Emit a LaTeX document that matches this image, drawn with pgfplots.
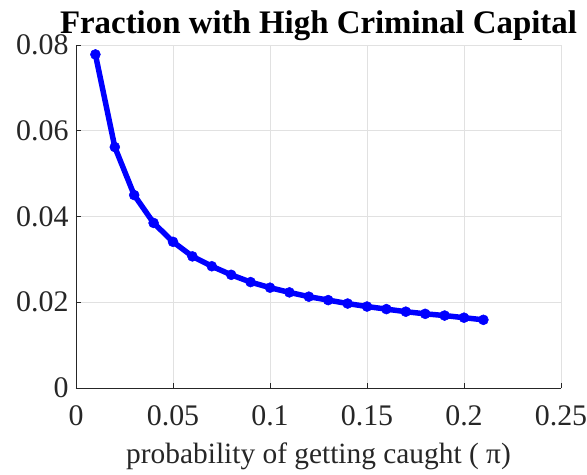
\documentclass[border=0pt]{standalone}
\usepackage{pgfplots}
\pgfplotsset{compat=1.18}
\usepackage{fontspec}
\setmainfont{Liberation Serif}
\definecolor{gridc}{RGB}{225,225,225}
\definecolor{axc}{RGB}{38,38,38}
\begin{document}
\begin{tikzpicture}
\useasboundingbox (-76bp,-87bp) rectangle (511bp,388bp);
\begin{axis}[
  at={(0,0)}, anchor=south west,
  scale only axis, width=485bp, height=343bp,
  xmin=0, xmax=0.25, ymin=0, ymax=0.08,
  scaled y ticks=false, scaled x ticks=false,
  xtick={0,0.05,0.1,0.15,0.2,0.25},
  ytick={0,0.02,0.04,0.06,0.08},
  xticklabels={0,0.05,0.1,0.15,0.2,0.25},
  yticklabels={0,0.02,0.04,0.06,0.08},
  axis lines=left,
  axis line style={axc, line width=0.8pt, -},
  tick style={axc, line width=0.6pt},
  tick align=inside,
  major tick length=5bp,
  grid=major,
  major grid style={gridc, line width=0.8pt},
  ticklabel style={font=\fontsize{30}{32}\selectfont, text=axc},
  /pgf/number format/assume math mode=true,
  xticklabel style={anchor=north, yshift=-14bp},
  yticklabel style={anchor=east, xshift=-4bp},
  xlabel={probability of getting caught ( π)},
  xlabel style={font=\fontsize{29.5}{32}\selectfont, text=axc, yshift=-10bp},
  title={\textbf{Fraction with High Criminal Capital}},
  title style={font=\fontsize{33}{36}\selectfont, yshift=-5bp},
  clip=false,
]
\addplot+[blue, line width=5.5pt, mark=*, mark size=5bp, mark options={fill=blue, draw=blue, line width=0.5pt}] coordinates {
(0.01,0.0778)
(0.02,0.0562)
(0.03,0.0450)
(0.04,0.0385)
(0.05,0.0341)
(0.06,0.0307)
(0.07,0.0284)
(0.08,0.0264)
(0.09,0.0247)
(0.10,0.0234)
(0.11,0.0223)
(0.12,0.0213)
(0.13,0.0205)
(0.14,0.0197)
(0.15,0.0190)
(0.16,0.0184)
(0.17,0.0178)
(0.18,0.0173)
(0.19,0.0169)
(0.20,0.0164)
(0.21,0.0159)
};
\end{axis}
\end{tikzpicture}
\end{document}
